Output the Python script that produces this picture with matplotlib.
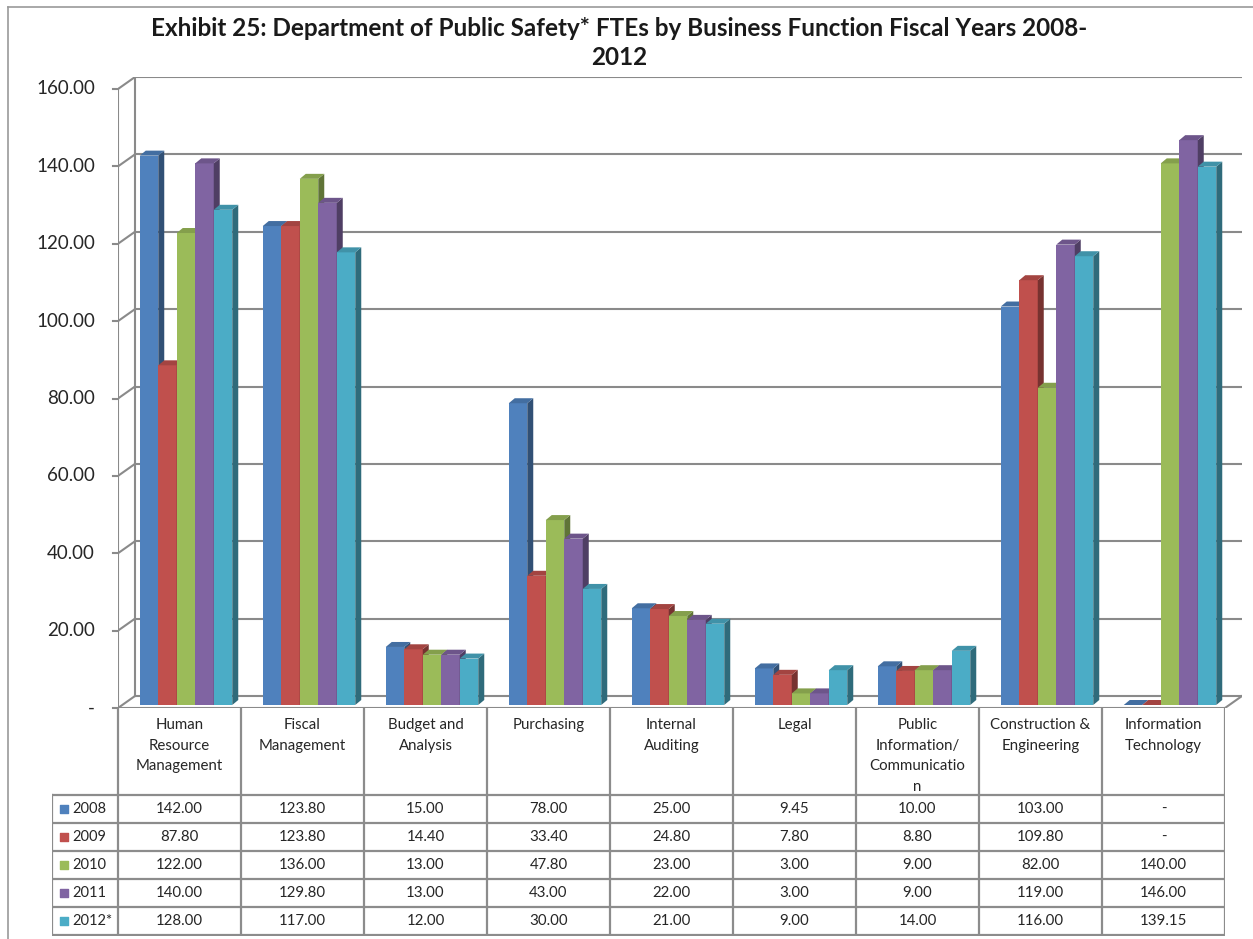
import matplotlib.pyplot as plt
from matplotlib.patches import Polygon
from matplotlib.colors import to_rgb

categories = ['Human\nResource\nManagement', 'Fiscal\nManagement', 'Budget and\nAnalysis',
              'Purchasing', 'Internal\nAuditing', 'Legal',
              'Public\nInformation/\nCommunicatio\nn', 'Construction &\nEngineering',
              'Information\nTechnology']
years = ['2008', '2009', '2010', '2011', '2012*']
fte_2008 = [142.00, 123.80, 15.00, 78.00, 25.00, 9.45, 10.00, 103.00, 0]
fte_2009 = [87.80, 123.80, 14.40, 33.40, 24.80, 7.80, 8.80, 109.80, 0]
fte_2010 = [122.00, 136.00, 13.00, 47.80, 23.00, 3.00, 9.00, 82.00, 140.00]
fte_2011 = [140.00, 129.80, 13.00, 43.00, 22.00, 3.00, 9.00, 119.00, 146.00]
fte_2012 = [128.00, 117.00, 12.00, 30.00, 21.00, 9.00, 14.00, 116.00, 139.15]
series = [fte_2008, fte_2009, fte_2010, fte_2011, fte_2012]
colors = ['#4F81BD', '#C0504D', '#9BBB59', '#8064A2', '#4BACC6']
yticks = [0, 20, 40, 60, 80, 100, 120, 140, 160]

title = ('Exhibit 25: Department of Public Safety* FTEs by Business Function Fiscal Years 2008-\n'
         '2012')

plt.rcParams['font.family'] = ['Lato', 'DejaVu Sans']

W, H = 1253, 939
fig = plt.figure(figsize=(W / 100, H / 100), dpi=100)


def px_box(l, t, r, b):
    return [l / W, 1 - b / H, (r - l) / W, (b - t) / H]


def shade(c, f):
    r, g, b = to_rgb(c)
    return (r * f, g * f, b * f)


UX = 123.0          # px per category
UY = 619.0 / 160    # px per value unit
DX = 17 / UX        # wall depth
DY = 12 / UY
GRID = '#8a8a8a'
TXT = '#262626'

ax = fig.add_axes(px_box(118, 77, 118 + (9 + DX) * UX, 708))
ax.set_xlim(-0.5, 8.5 + DX)
ax.set_ylim(0, 160 + DY)
ax.axis('off')

# back wall, side wall and floor
for v in yticks:
    ax.plot([-0.5 + DX, 8.5 + DX], [v + DY, v + DY], color=GRID, lw=1.5, zorder=1)
    ax.plot([-0.5, -0.5 + DX], [v, v + DY], color=GRID, lw=1.5, zorder=1)
    ax.plot([-0.5 - 5 / UX, -0.5], [v, v], color=GRID, lw=1.5, zorder=1, clip_on=False)
    lab = '-' if v == 0 else f'{v:.2f}'
    ax.text(-0.5 - 23 / UX, v, lab, ha='right', va='center', fontsize=13.5, color=TXT)
ax.plot([-0.5, -0.5], [0, 160], color=GRID, lw=1.5, zorder=1)
ax.plot([-0.5 + DX, -0.5 + DX], [DY, 160 + DY], color=GRID, lw=1.5, zorder=1)
ax.plot([-0.5, 8.5], [0, 0], color=GRID, lw=1.5, zorder=1)
ax.plot([8.5, 8.5 + DX], [0, DY], color=GRID, lw=1.5, zorder=1)

# pseudo-3D columns
w = 18.5 / UX
SX = 6.5 / UX
SY = 3 / UY
BDX = 6 / UX
BDY = 5 / UY
for j, (vals, c) in enumerate(zip(series, colors)):
    lefts = [i - 2.5 * w + j * w + SX for i in range(len(vals))]
    ax.bar(lefts, vals, width=w, bottom=SY, align='edge', color=c, zorder=3 + 2 * j)
    for x0, v in zip(lefts, vals):
        x1 = x0 + w
        top = SY + v
        side = Polygon([(x1, SY), (x1 + BDX, SY + BDY), (x1 + BDX, top + BDY), (x1, top)],
                       closed=True, fc=shade(c, 0.62), ec='none', zorder=4 + 2 * j)
        cap = Polygon([(x0, top), (x1, top), (x1 + BDX, top + BDY), (x0 + BDX, top + BDY)],
                      closed=True, fc=shade(c, 0.85), ec='none', zorder=4 + 2 * j)
        ax.add_patch(side)
        ax.add_patch(cap)

# data table
LEG = 66 / UX
tab = fig.add_axes(px_box(52, 708, 118 + 9 * UX, 936))
tab.set_xlim(-0.5 - LEG, 8.5)
tab.set_ylim(228, 0)
tab.axis('off')
HEAD = 87
ROW = 28
TBL = '#8c8c8c'
for k in range(0, 6):
    y = HEAD + ROW * k
    tab.plot([-0.5 - LEG, 8.5], [y, y], color=TBL, lw=1.6)
for i in range(10):
    tab.plot([i - 0.5, i - 0.5], [0, HEAD + 5 * ROW], color=TBL, lw=1.6)
tab.plot([-0.5 - LEG, -0.5 - LEG], [HEAD, HEAD + 5 * ROW], color=TBL, lw=1.6)

for i, cat in enumerate(categories):
    tab.text(i, 10, cat, ha='center', va='top', fontsize=10.8, color=TXT, linespacing=1.6)

for k, (yr, vals, c) in enumerate(zip(years, series, colors)):
    yc = HEAD + ROW * k + ROW / 2
    tab.scatter([-0.5 - LEG + 12 / UX], [yc], marker='s', s=36, color=c, clip_on=False)
    tab.text(-0.5 - LEG + 20 / UX, yc, yr, ha='left', va='center', fontsize=10.5, color=TXT)
    for i, v in enumerate(vals):
        lab = '-' if v == 0 else f'{v:.2f}'
        tab.text(i, yc, lab, ha='center', va='center', fontsize=10.8, color=TXT)

# chart frame
fig.add_artist(plt.Line2D([8 / W, 8 / W], [0, 1 - 7 / H], color='#9a9a9a', lw=1.2))
fig.add_artist(plt.Line2D([8 / W, 1], [1 - 7 / H, 1 - 7 / H], color='#9a9a9a', lw=1.2))

fig.text(619 / W, 1 - 17 / H, title, ha='center', va='top', fontsize=17.5,
         fontweight='bold', color='#1a1a1a', linespacing=1.3)

fig.savefig('out.png', dpi=100)
